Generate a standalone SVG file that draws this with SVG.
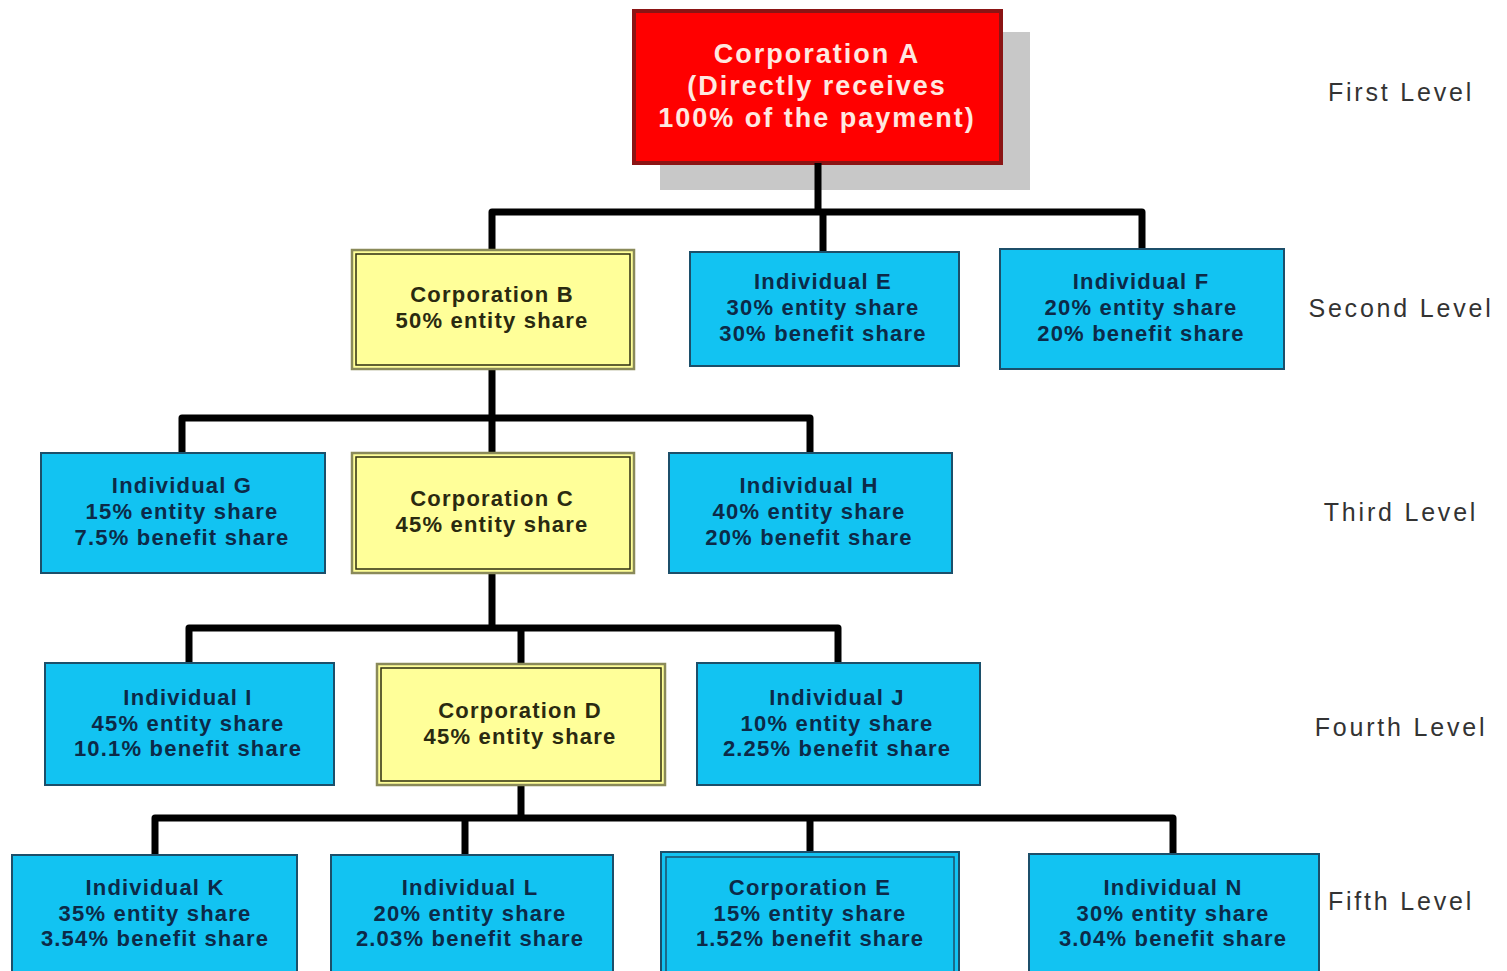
<svg xmlns="http://www.w3.org/2000/svg" width="1507" height="971" viewBox="0 0 1507 971">
<style>
.blue{fill:#12C3F2;stroke:#1C4F6A;stroke-width:2}
.yel{fill:#FFFF99;stroke:#8A8A5A;stroke-width:2.5}
.yin{fill:none;stroke:#2E2E10;stroke-width:1.5}
.bin{fill:none;stroke:#1C4F6A;stroke-width:1.5}
.t{font-family:"Liberation Sans",Arial,sans-serif;font-weight:bold;font-size:22px;letter-spacing:1.2px;text-anchor:middle;fill:#0C2A48}
.ty{fill:#2A2A10}
.ta{font-family:"Liberation Sans",Arial,sans-serif;font-weight:bold;font-size:27px;letter-spacing:2px;text-anchor:middle;fill:#FFE8E0}
.lv{font-family:"Liberation Sans",Arial,sans-serif;font-size:25px;letter-spacing:2.8px;text-anchor:middle;fill:#333}
.c{fill:none;stroke:#000;stroke-width:7;stroke-linejoin:round;stroke-linecap:butt}
</style>
<rect width="1507" height="971" fill="#fff"/>
<g id="corpA">
<rect x="660" y="32" width="370" height="158" fill="#C8C8C8"/>
<rect x="634" y="11" width="367" height="152" fill="#FF0000" stroke="#8B1414" stroke-width="4"/>
<text class="ta" x="817" y="63">Corporation A</text>
<text class="ta" x="817" y="95">(Directly receives</text>
<text class="ta" x="817" y="127">100% of the payment)</text>
</g>
<g id="connectors">
<path class="c" d="M818 163V212M492 250V212H1142V249M823 212V252"/>
<path class="c" d="M492 369V453M182 453V418H810V453"/>
<path class="c" d="M492 573V628M189 663V628H838V663M521 628V663"/>
<path class="c" d="M521 785V818M155 855V818H1173V854M465 818V855M810 818V852"/>
</g>
<g id="corpB">
<rect class="yel" x="352" y="250" width="282" height="119"/>
<rect class="yin" x="356" y="254" width="274" height="111"/>
<text class="t ty" x="492" y="302">Corporation B</text>
<text class="t ty" x="492" y="328">50% entity share</text>
</g>
<g id="indE">
<rect class="blue" x="690" y="252" width="269" height="114"/>
<text class="t" x="823" y="289">Individual E</text>
<text class="t" x="823" y="315">30% entity share</text>
<text class="t" x="823" y="341">30% benefit share</text>
</g>
<g id="indF">
<rect class="blue" x="1000" y="249" width="284" height="120"/>
<text class="t" x="1141" y="289">Individual F</text>
<text class="t" x="1141" y="315">20% entity share</text>
<text class="t" x="1141" y="341">20% benefit share</text>
</g>
<g id="indG">
<rect class="blue" x="41" y="453" width="284" height="120"/>
<text class="t" x="182" y="493">Individual G</text>
<text class="t" x="182" y="519">15% entity share</text>
<text class="t" x="182" y="545">7.5% benefit share</text>
</g>
<g id="corpC">
<rect class="yel" x="352" y="453" width="282" height="120"/>
<rect class="yin" x="356" y="457" width="274" height="112"/>
<text class="t ty" x="492" y="506">Corporation C</text>
<text class="t ty" x="492" y="532">45% entity share</text>
</g>
<g id="indH">
<rect class="blue" x="669" y="453" width="283" height="120"/>
<text class="t" x="809" y="493">Individual H</text>
<text class="t" x="809" y="519">40% entity share</text>
<text class="t" x="809" y="545">20% benefit share</text>
</g>
<g id="indI">
<rect class="blue" x="45" y="663" width="289" height="122"/>
<text class="t" x="188" y="705">Individual I</text>
<text class="t" x="188" y="731">45% entity share</text>
<text class="t" x="188" y="756">10.1% benefit share</text>
</g>
<g id="corpD">
<rect class="yel" x="377" y="664" width="288" height="121"/>
<rect class="yin" x="381" y="668" width="280" height="113"/>
<text class="t ty" x="520" y="718">Corporation D</text>
<text class="t ty" x="520" y="744">45% entity share</text>
</g>
<g id="indJ">
<rect class="blue" x="697" y="663" width="283" height="122"/>
<text class="t" x="837" y="705">Individual J</text>
<text class="t" x="837" y="731">10% entity share</text>
<text class="t" x="837" y="756">2.25% benefit share</text>
</g>
<g id="indK">
<rect class="blue" x="12" y="855" width="285" height="125"/>
<text class="t" x="155" y="895">Individual K</text>
<text class="t" x="155" y="921">35% entity share</text>
<text class="t" x="155" y="946">3.54% benefit share</text>
</g>
<g id="indL">
<rect class="blue" x="331" y="855" width="282" height="125"/>
<text class="t" x="470" y="895">Individual L</text>
<text class="t" x="470" y="921">20% entity share</text>
<text class="t" x="470" y="946">2.03% benefit share</text>
</g>
<g id="corpE">
<rect class="blue" x="661" y="852" width="298" height="128"/>
<rect class="bin" x="666" y="857" width="288" height="120"/>
<text class="t" x="810" y="895">Corporation E</text>
<text class="t" x="810" y="921">15% entity share</text>
<text class="t" x="810" y="946">1.52% benefit share</text>
</g>
<g id="indN">
<rect class="blue" x="1029" y="854" width="290" height="126"/>
<text class="t" x="1173" y="895">Individual N</text>
<text class="t" x="1173" y="921">30% entity share</text>
<text class="t" x="1173" y="946">3.04% benefit share</text>
</g>
<g id="levels">
<text class="lv" x="1401" y="101">First Level</text>
<text class="lv" x="1401" y="317">Second Level</text>
<text class="lv" x="1401" y="521">Third Level</text>
<text class="lv" x="1401" y="736">Fourth Level</text>
<text class="lv" x="1401" y="910">Fifth Level</text>
</g>
</svg>
